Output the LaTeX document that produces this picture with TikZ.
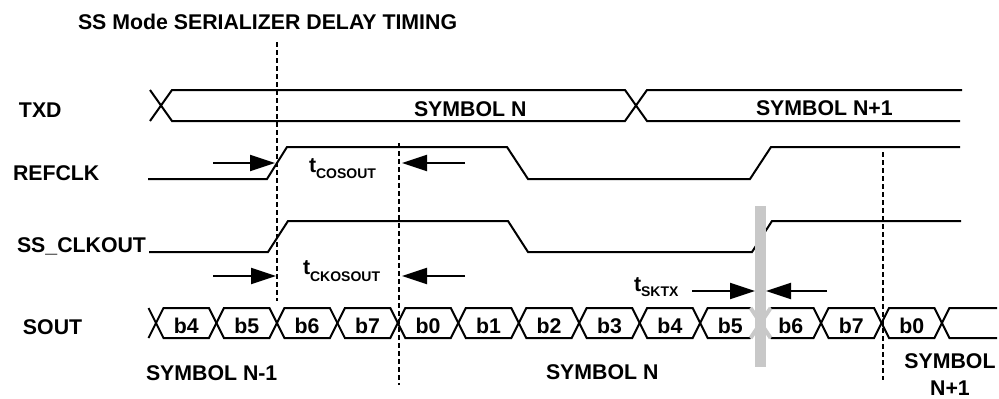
\documentclass[tikz,border=0pt]{standalone}
\usepackage{fontspec}
\setmainfont{Liberation Sans}
\usetikzlibrary{arrows.meta}
\definecolor{barg}{RGB}{200,200,200}
\newcommand\tsubl[2]{t\raisebox{-#2pt}{\fontsize{14}{14}\selectfont #1}}
\begin{document}
\begin{tikzpicture}[x=1pt,y=-1pt,line width=2pt,
  txt/.style={font=\fontsize{21.3}{25}\selectfont\bfseries,inner sep=0pt},
  dsh/.style={line width=1.5pt,dash pattern=on 5pt off 3pt},
  arr/.style={line width=2pt,-{Triangle[length=25pt,width=16pt]}}]
\useasboundingbox (0,0) rectangle (999,399);
% title and row labels
\node[txt,anchor=base west] (title) at (77,29) {SS Mode SERIALIZER DELAY TIMING};
\node[txt,anchor=base west] (ltxd) at (18,117) {TXD};
\node[txt,anchor=base west] (lref) at (12,180) {REFCLK};
\node[txt,anchor=base west] (lss) at (16,252) {SS\_CLKOUT};
\node[txt,anchor=base west] (lsout) at (22,334) {SOUT};
% TXD bus
\draw (150,90) -- (172,121) -- (625,121) -- (647,90) -- (962,90);
\draw (150,121) -- (172,90) -- (625,90) -- (647,121) -- (960,121);
\node[txt,anchor=base west] (symn) at (413,116) {SYMBOL N};
\node[txt,anchor=base west] (symn1) at (755,115) {SYMBOL N+1};
% REFCLK
\draw (148,179) -- (267,179) -- (287,147) -- (507,147) -- (528,179) -- (750,179) -- (771,147) -- (960,147);
% SS_CLKOUT
\draw (149,252) -- (268,252) -- (288,221) -- (508,221) -- (528,252) -- (752,252) -- (772,221) -- (961,221);
% SOUT bus
\def\h{7.5}
\draw (156-\h,308) -- (156,323) -- (156-\h,338);
\foreach \i/\bn in {0/b4,1/b5,2/b6,3/b7,4/b0,5/b1,6/b2,7/b3,8/b4,9/b5,10/b6,11/b7,12/b0}{
  \pgfmathsetmacro\ca{156+60.46*\i}
  \pgfmathsetmacro\cb{\ca+60.46}
  \ifnum\i=9
    \draw (\cb-10,308) -- (\ca+\h,308) -- (\ca,323) -- (\ca+\h,338) -- (\cb-10,338);
  \else\ifnum\i=10
    \draw (\ca+10,308) -- (\cb-\h,308) -- (\cb,323) -- (\cb-\h,338) -- (\ca+10,338);
  \else
    \draw (\ca,323) -- (\ca+\h,308) -- (\cb-\h,308) -- (\cb,323) -- (\cb-\h,338) -- (\ca+\h,338) -- cycle;
  \fi\fi
  \node[txt,anchor=base] (bit\i) at ({(\ca+\cb)/2},333) {\bn};
}
\pgfmathsetmacro\cl{156+60.46*13}
\draw (997,308) -- (\cl+\h,308) -- (\cl,323) -- (\cl+\h,338) -- (997,338);
\pgfmathsetmacro\cg{156+60.46*10}
\draw[barg,line width=4pt] (\cg-10,308) -- (\cg+10,338) (\cg-10,338) -- (\cg+10,308);
% gray skew bar
\fill[barg] (755,206) rectangle (766,367);
% dashed reference lines
\coordinate (d1a) at (277,42);  \coordinate (d1b) at (277,301);
\coordinate (d2a) at (399,143); \coordinate (d2b) at (399,385);
\coordinate (d3a) at (883,152); \coordinate (d3b) at (883,380);
\draw[dsh] (d1a) -- (d1b);
\draw[dsh] (d2a) -- (d2b);
\draw[dsh] (d3a) -- (d3b);
% timing arrows
\coordinate (a1s) at (213,163); \coordinate (a1e) at (275,163);
\coordinate (a2s) at (465,163); \coordinate (a2e) at (402,163);
\coordinate (a3s) at (213,276); \coordinate (a3e) at (276,276);
\coordinate (a4s) at (465,276); \coordinate (a4e) at (402,276);
\coordinate (a5s) at (692,291); \coordinate (a5e) at (755,291);
\coordinate (a6s) at (827,291); \coordinate (a6e) at (766,291);
\draw[arr] (a1s) -- (a1e);
\draw[arr] (a2s) -- (a2e);
\draw[arr] (a3s) -- (a3e);
\draw[arr] (a4s) -- (a4e);
\draw[arr] (a5s) -- (a5e);
\draw[arr] (a6s) -- (a6e);
\node[txt,anchor=base west] (tcos) at (308,172) {\tsubl{COSOUT}{6}};
\node[txt,anchor=base west] (tckos) at (302,274) {\tsubl{CKOSOUT}{7}};
\node[txt,anchor=base west] (tsktx) at (633,291) {\tsubl{SKTX}{5}};
% bottom symbol labels
\node[txt,anchor=base west] (bsym1) at (145,380) {SYMBOL N-1};
\node[txt,anchor=base west] (bsym2) at (545,379) {SYMBOL N};
\node[txt,anchor=base] (bsym3) at (950,368) {SYMBOL};
\node[txt,anchor=base] (bsym4) at (950,395) {N+1};
\end{tikzpicture}
\end{document}
